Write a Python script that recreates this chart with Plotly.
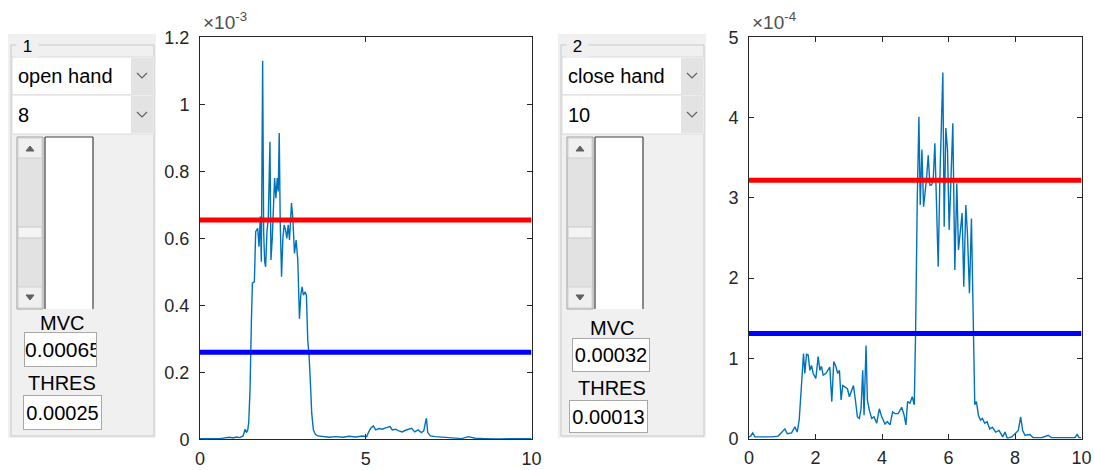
import plotly.graph_objects as go

# ---------------- data ----------------
# Panel 1 : "open hand", signal in units of 1e-3
t1 = [0.0, 0.3, 0.6, 0.9, 1.0, 1.1, 1.2, 1.3, 1.36, 1.40, 1.44, 1.47, 1.51, 1.55, 1.58, 1.64,
      1.68, 1.74, 1.78, 1.82, 1.85, 1.89, 1.92, 1.95, 1.98, 2.02, 2.06, 2.11, 2.14, 2.18, 2.21,
      2.25, 2.29, 2.33, 2.36, 2.39, 2.42, 2.46, 2.50, 2.54, 2.58, 2.62, 2.66, 2.70, 2.73, 2.76,
      2.80, 2.85, 2.90, 2.95, 3.00, 3.04, 3.08, 3.12, 3.17, 3.21, 3.25, 3.29, 3.33, 3.37, 3.42,
      3.48, 3.55, 3.7, 3.9, 4.1, 4.3, 4.5, 4.7, 4.9, 5.03, 5.08, 5.15, 5.23, 5.30, 5.40, 5.50,
      5.60, 5.73, 5.80, 5.90, 6.00, 6.10, 6.20, 6.30, 6.38, 6.48, 6.58, 6.68, 6.75, 6.80, 6.83,
      6.87, 6.95, 7.1, 7.3, 7.5, 7.7, 7.9, 8.09, 8.3, 8.6, 9.0, 9.5, 10.0]
y1 = [0.002, 0.001, 0.002, 0.006, 0.004, 0.007, 0.005, 0.01, 0.03, 0.02, 0.028, 0.05, 0.15, 0.35,
      0.466, 0.47, 0.62, 0.63, 0.575, 0.665, 0.53, 1.13, 0.62, 0.53, 0.515, 0.62, 0.66, 0.888,
      0.535, 0.6, 0.66, 0.78, 0.72, 0.78, 0.74, 0.914, 0.65, 0.485, 0.6, 0.64, 0.625, 0.6, 0.64,
      0.595, 0.65, 0.705, 0.66, 0.555, 0.595, 0.535, 0.36, 0.43, 0.455, 0.43, 0.44, 0.43, 0.296,
      0.25, 0.17, 0.078, 0.028, 0.015, 0.01, 0.008, 0.006, 0.008, 0.006, 0.009, 0.007, 0.01,
      0.008, 0.02, 0.033, 0.04, 0.028, 0.032, 0.03, 0.034, 0.038, 0.028, 0.03, 0.025, 0.022,
      0.027, 0.03, 0.033, 0.022, 0.028, 0.02, 0.025, 0.05, 0.063, 0.02, 0.01, 0.008, 0.006,
      0.005, 0.003, 0.002, 0.008, 0.003, 0.002, 0.001, 0.002, 0.002]
mvc1 = 0.655    # x 1e-3
thres1 = 0.26   # x 1e-3

# Panel 2 : "close hand", signal in units of 1e-4
t2 = [0.0, 0.05, 0.11, 0.18, 0.3, 0.5, 0.7, 0.88, 0.98, 1.08, 1.15, 1.28, 1.38, 1.45, 1.51, 1.58,
      1.64, 1.68, 1.73, 1.78, 1.83, 1.88, 1.93, 2.01, 2.08, 2.13, 2.18, 2.23, 2.31, 2.37, 2.43,
      2.49, 2.55, 2.61, 2.67, 2.72, 2.77, 2.82, 2.89, 2.96, 3.02, 3.09, 3.14, 3.2, 3.26, 3.32,
      3.37, 3.42, 3.46, 3.52, 3.56, 3.62, 3.69, 3.76, 3.84, 3.92, 3.99, 4.09, 4.16, 4.24, 4.32,
      4.39, 4.49, 4.59, 4.66, 4.72, 4.77, 4.84, 4.91, 4.97, 5.01, 5.06, 5.11, 5.15, 5.2, 5.25,
      5.3, 5.34, 5.39, 5.44, 5.49, 5.54, 5.59, 5.64, 5.69, 5.74, 5.79, 5.83, 5.87, 5.92, 5.97,
      6.02, 6.07, 6.13, 6.19, 6.25, 6.3, 6.36, 6.41, 6.46, 6.52, 6.57, 6.63, 6.69, 6.74, 6.79,
      6.84, 6.9, 6.96, 7.02, 7.09, 7.16, 7.24, 7.32, 7.42, 7.52, 7.63, 7.7, 7.77, 7.9, 8.0, 8.1,
      8.17, 8.23, 8.3, 8.45, 8.55, 8.8, 9.0, 9.1, 9.4, 9.8, 9.87, 9.93, 10.0]
y2 = [0.02, 0.03, 0.07, 0.02, 0.02, 0.02, 0.02, 0.03, 0.07, 0.12, 0.06, 0.07, 0.145, 0.08, 0.23,
      0.69, 1.06, 0.81, 1.05, 1.04, 0.85, 0.91, 0.81, 0.75, 1.02, 0.85, 0.9, 0.79, 0.81, 0.85,
      0.89, 0.46, 0.96, 0.9, 0.81, 0.85, 0.48, 0.66, 0.64, 0.62, 0.52, 0.62, 0.66, 0.48, 0.27,
      0.25, 0.37, 0.85, 0.29, 1.16, 0.48, 0.35, 0.25, 0.27, 0.19, 0.37, 0.27, 0.18, 0.21, 0.17,
      0.33, 0.31, 0.31, 0.39, 0.3, 0.17, 0.46, 0.44, 0.52, 0.42, 1.31, 2.97, 4.01, 2.91, 3.6,
      2.89, 3.05, 3.24, 3.53, 3.16, 3.16, 3.22, 3.68, 2.89, 2.14, 3.22, 3.89, 4.56, 2.64, 3.87,
      3.6, 2.6, 3.18, 3.93, 2.1, 3.18, 2.35, 2.64, 2.81, 1.89, 2.91, 2.55, 1.81, 2.74, 1.31,
      0.42, 0.46, 0.29, 0.23, 0.25, 0.19, 0.21, 0.12, 0.14, 0.08, 0.1, 0.02, 0.08, 0.0, 0.02,
      0.06, 0.1, 0.27, 0.1, 0.04, 0.05, 0.01, 0.01, 0.04, 0.01, 0.01, 0.01, 0.05, 0.01, 0.01]
mvc2 = 3.22     # x 1e-4
thres2 = 1.31   # x 1e-4

gesture1, gesture2 = "open hand", "close hand"
channel1, channel2 = "8", "10"
mvc_text1, thres_text1 = "0.00065", "0.00025"
mvc_text2, thres_text2 = "0.00032", "0.00013"
yticks1 = [0, 0.2, 0.4, 0.6, 0.8, 1, 1.2]
yticks2 = [0, 1, 2, 3, 4, 5]
xticks1 = [0, 5, 10]
xticks2 = [0, 2, 4, 6, 8, 10]

# ---------------- figure ----------------
W, H = 1094, 470
FONT = "Liberation Sans, Arial, sans-serif"
AX = "#262626"
GRAY = "#f0f0f0"


def fx(x):
    return x / W


def fy(y):
    return 1 - y / H


shapes = []
annos = []


def rect(x0, y0, x1, y1, fill, line=None, lw=1):
    shapes.append(dict(type="rect", xref="paper", yref="paper",
                       x0=fx(x0), x1=fx(x1), y0=fy(y1), y1=fy(y0),
                       fillcolor=fill,
                       line=dict(color=line if line else fill, width=lw if line else 0),
                       layer="above"))


def seg(x0, y0, x1, y1, color, lw=1):
    shapes.append(dict(type="line", xref="paper", yref="paper",
                       x0=fx(x0), x1=fx(x1), y0=fy(y0), y1=fy(y1),
                       line=dict(color=color, width=lw), layer="above"))


def path(pts, color, fill=None, lw=1.2):
    d = "M " + " L ".join(f"{fx(x)},{fy(y)}" for x, y in pts)
    if fill:
        d += " Z"
    shapes.append(dict(type="path", xref="paper", yref="paper", path=d,
                       line=dict(color=color, width=lw),
                       fillcolor=fill if fill else "rgba(0,0,0,0)", layer="above"))


def text(x, y, s, size=20, xanchor="left", yanchor="middle", color="#000000", bg=None):
    a = dict(x=fx(x), y=fy(y), xref="paper", yref="paper", text=s, showarrow=False,
             xanchor=xanchor, yanchor=yanchor, font=dict(family=FONT, size=size, color=color))
    if bg:
        a["bgcolor"] = bg
    annos.append(a)


def editbox(x0, y0, x1, y1, s, align, size=20):
    annos.append(dict(x=fx(x0), y=fy(y0), xref="paper", yref="paper", text=s,
                      showarrow=False, xanchor="left", yanchor="top",
                      width=x1 - x0 - 2, height=y1 - y0 - 2, align=align, valign="middle",
                      bgcolor="#ffffff", bordercolor="#a8a8a8", borderwidth=1, borderpad=0,
                      font=dict(family=FONT, size=size, color="#000000")))


def panel(ox, title, gesture, channel, mvc_s, thres_s, mvc_box, thres_box, mvc_y, thres_y,
          mvc_align, mvc_size):
    # background
    rect(ox + 8, 34, ox + 156, 438, GRAY)
    # etched border
    rect(ox + 11, 45, ox + 154, 436, "rgba(0,0,0,0)", "#c9c9c9", 1)
    text(ox + 16, 46, " " + title + " ", size=17, bg=GRAY)
    # dropdown 1
    rect(ox + 12, 57, ox + 154, 95, "#ffffff", "#d9d9d9", 1)
    rect(ox + 131, 58, ox + 153, 94, "#e3e3e3")
    path([(ox + 137, 73), (ox + 142, 78), (ox + 147, 73)], "#606060", lw=1.2)
    text(ox + 16, 76, gesture, size=20)
    # dropdown 2
    rect(ox + 12, 95, ox + 154, 134, "#ffffff", "#d9d9d9", 1)
    rect(ox + 131, 96, ox + 153, 133, "#e3e3e3")
    path([(ox + 137, 112), (ox + 142, 117), (ox + 147, 112)], "#606060", lw=1.2)
    text(ox + 16, 115, channel, size=20)
    # scrollbar
    sx0, sx1 = ox + 17, ox + 43
    rect(sx0, 137, sx1, 309, "#e2e2e2", "#a0a0a0", 1)
    rect(sx0 + 1, 138, sx1 - 1, 158, "#f0f0f0", "#d0d0d0", 1)
    rect(sx0 + 1, 287, sx1 - 1, 308, "#f0f0f0", "#d0d0d0", 1)
    rect(sx0 + 1, 227, sx1 - 1, 238, "#f4f4f4", "#c8c8c8", 1)
    path([(ox + 26, 151), (ox + 30, 146), (ox + 34, 151)], "#606060", fill="#606060", lw=1)
    path([(ox + 26, 295), (ox + 30, 300), (ox + 34, 295)], "#606060", fill="#606060", lw=1)
    # white axes box next to slider
    rect(ox + 45, 137, ox + 93, 309, "#ffffff")
    seg(ox + 45, 137, ox + 45, 309, "#404040", 1.2)
    seg(ox + 93, 137, ox + 93, 309, "#404040", 1.2)
    seg(ox + 45, 137, ox + 93, 137, "#404040", 1.2)
    # labels + edit boxes
    text(ox + 62, mvc_y, "MVC", size=20, xanchor="center")
    editbox(*mvc_box, mvc_s, mvc_align, mvc_size)
    text(ox + 62, thres_y, "THRES", size=20, xanchor="center")
    editbox(*thres_box, thres_s, "center")


panel(0, "1", gesture1, channel1, mvc_text1, thres_text1,
      (24, 332, 97, 367), (23, 395, 102, 430), 323, 383, "left", 21)
panel(550, "2", gesture2, channel2, mvc_text2, thres_text2,
      (572, 338, 650, 372), (569, 400, 648, 433), 328, 388, "center", 20)

fig = go.Figure()
LINE_BLUE = "#0072BD"
fig.add_trace(go.Scatter(x=t1, y=y1, mode="lines", line=dict(color=LINE_BLUE, width=1.4),
                         xaxis="x", yaxis="y", hoverinfo="skip"))
fig.add_trace(go.Scatter(x=[0, 10], y=[mvc1, mvc1], mode="lines",
                         line=dict(color="#ff0000", width=5), xaxis="x", yaxis="y"))
fig.add_trace(go.Scatter(x=[0, 10], y=[thres1, thres1], mode="lines",
                         line=dict(color="#0000ff", width=5), xaxis="x", yaxis="y"))
fig.add_trace(go.Scatter(x=t2, y=y2, mode="lines", line=dict(color=LINE_BLUE, width=1.4),
                         xaxis="x2", yaxis="y2", hoverinfo="skip"))
fig.add_trace(go.Scatter(x=[0, 10], y=[mvc2, mvc2], mode="lines",
                         line=dict(color="#ff0000", width=5), xaxis="x2", yaxis="y2"))
fig.add_trace(go.Scatter(x=[0, 10], y=[thres2, thres2], mode="lines",
                         line=dict(color="#0000ff", width=5), xaxis="x2", yaxis="y2"))

common = dict(showgrid=False, zeroline=False, showline=True, mirror="ticks", linecolor=AX,
              linewidth=1, ticks="inside", ticklen=5, tickcolor=AX, tickwidth=1,
              automargin=False,
              tickfont=dict(family=FONT, size=18, color=AX))

ax1 = dict(domain=[fx(200), fx(531.5)])
ax2 = dict(domain=[fx(749), fx(1081.5)])
ay1 = dict(domain=[fy(439.3), fy(37.3)])
ay2 = dict(domain=[fy(438.5), fy(37.3)])

fig.update_layout(
    template="none",
    width=W, height=H, margin=dict(l=0, r=0, t=0, b=0, autoexpand=False),
    paper_bgcolor="#ffffff", plot_bgcolor="#ffffff", showlegend=False,
    xaxis=dict(**common, **ax1, range=[0, 10], tickvals=xticks1,
               ticktext=[str(v) for v in xticks1], anchor="y", ticklabelstandoff=3),
    yaxis=dict(**common, **ay1, range=[0, 1.2], tickvals=yticks1,
               ticktext=[("%g" % v) for v in yticks1], anchor="x", ticklabelstandoff=6),
    xaxis2=dict(**common, **ax2, range=[0, 10], tickvals=xticks2,
                ticktext=[str(v) for v in xticks2], anchor="y2", ticklabelstandoff=3),
    yaxis2=dict(**common, **ay2, range=[0, 5], tickvals=yticks2,
                ticktext=[str(v) for v in yticks2], anchor="x2", ticklabelstandoff=6),
    shapes=shapes,
    annotations=annos,
)

# exponent labels
for xpix, exp in [(201, "-3"), (750, "-4")]:
    fig.add_annotation(x=fx(xpix), y=fy(35), xref="paper", yref="paper",
                       text="×10<sup>" + exp + "</sup>", showarrow=False,
                       xanchor="left", yanchor="bottom",
                       font=dict(family=FONT, size=19, color="#505050"))

fig.write_html("out.html")
